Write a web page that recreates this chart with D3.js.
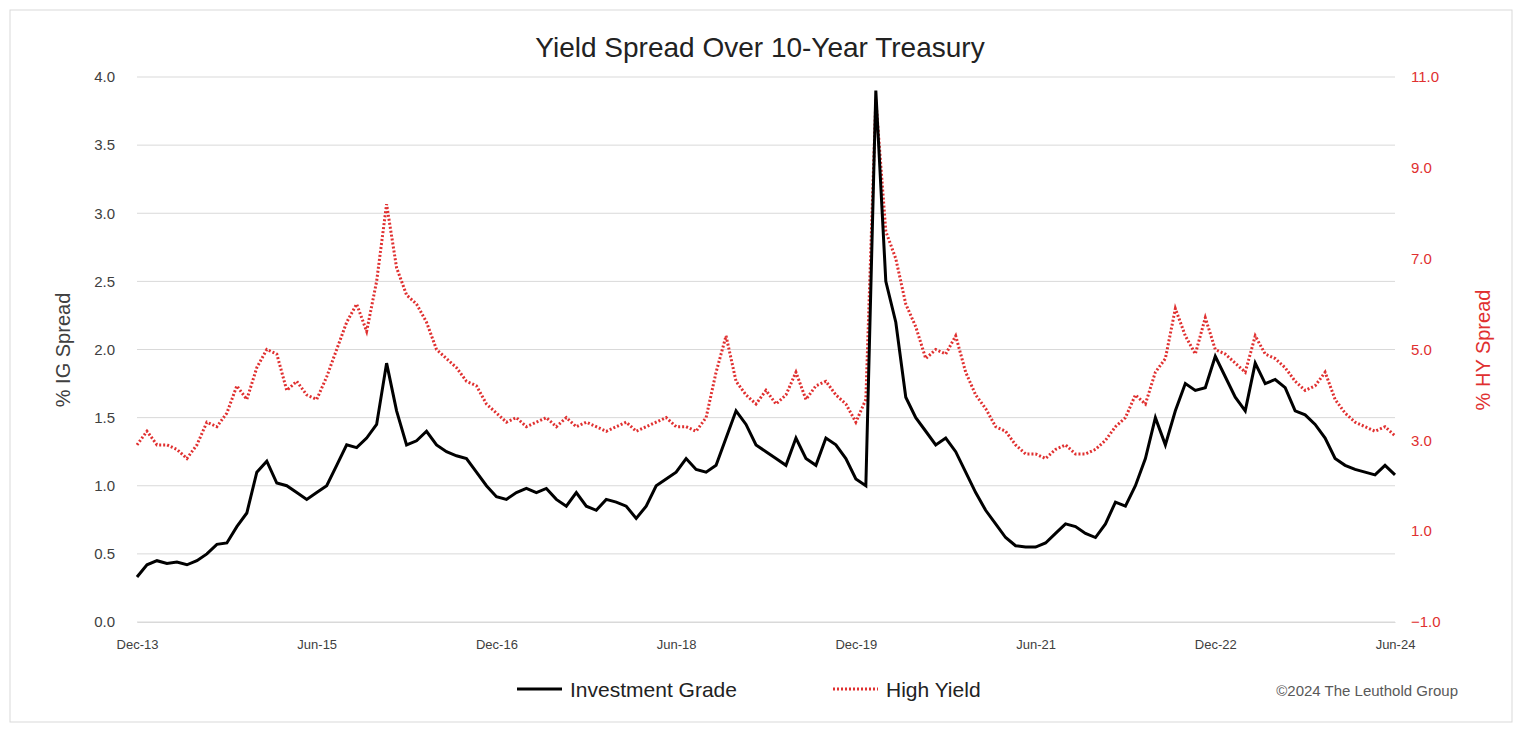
<!DOCTYPE html>
<html>
<head>
<script src="https://d3js.org/d3.v7.min.js"></script>
<style>
  body { margin: 0; background: #fff; font-family: "Liberation Sans", Arial, sans-serif; }
</style>
</head>
<body>
<svg id="chart" width="1524" height="737"></svg>
<script>
// monthly values starting Dec-2013
const igSpread = [0.33,0.42,0.45,0.43,0.44,0.42,0.45,0.50,0.57,0.58,0.70,0.80,
  1.10,1.18,1.02,1.00,0.95,0.90,0.95,1.00,1.15,1.30,1.28,1.35,1.45,1.90,1.55,1.30,1.33,1.40,1.30,1.25,1.22,1.20,1.10,1.00,
  0.92,0.90,0.95,0.98,0.95,0.98,0.90,0.85,0.95,0.85,0.82,0.90,0.88,0.85,0.76,0.85,1.00,1.05,
  1.10,1.20,1.12,1.10,1.15,1.35,1.55,1.45,1.30,1.25,1.20,1.15,1.35,1.20,1.15,1.35,1.30,1.20,
  1.05,1.00,3.90,2.50,2.20,1.65,1.50,1.40,1.30,1.35,1.25,1.10,0.95,0.82,0.72,0.62,0.56,0.55,
  0.55,0.58,0.65,0.72,0.70,0.65,0.62,0.72,0.88,0.85,1.00,1.20,1.50,1.30,1.55,1.75,1.70,1.72,
  1.95,1.80,1.65,1.55,1.90,1.75,1.78,1.72,1.55,1.52,1.45,1.35,1.20,1.15,1.12,1.10,1.08,1.15,1.08];
const hySpread = [2.9,3.2,2.9,2.9,2.8,2.6,2.9,3.4,3.3,3.6,4.2,3.9,
  4.6,5.0,4.9,4.1,4.3,4.0,3.9,4.4,5.0,5.6,6.0,5.4,6.5,8.2,6.8,6.2,6.0,5.6,5.0,4.8,4.6,4.3,4.2,3.8,
  3.6,3.4,3.5,3.3,3.4,3.5,3.3,3.5,3.3,3.4,3.3,3.2,3.3,3.4,3.2,3.3,3.4,3.5,
  3.3,3.3,3.2,3.5,4.5,5.3,4.3,4.0,3.8,4.1,3.8,4.0,4.5,3.9,4.2,4.3,4.0,3.8,
  3.4,3.9,10.5,7.6,7.0,6.0,5.5,4.8,5.0,4.9,5.3,4.5,4.0,3.7,3.3,3.2,2.9,2.7,
  2.7,2.6,2.8,2.9,2.7,2.7,2.8,3.0,3.3,3.5,4.0,3.8,4.5,4.8,5.9,5.3,4.9,5.7,
  5.0,4.9,4.7,4.5,5.3,4.9,4.8,4.6,4.3,4.1,4.2,4.5,3.9,3.6,3.4,3.3,3.2,3.3,3.1];
const xTickLabels = ["Dec-13","Jun-15","Dec-16","Jun-18","Dec-19","Jun-21","Dec-22","Jun-24"];
const leftTicks = [0,0.5,1,1.5,2,2.5,3,3.5,4];
const rightTicks = [-1,1,3,5,7,9,11];

const svg = d3.select("#chart");
svg.append("rect").attr("x", 10).attr("y", 10).attr("width", 1502).attr("height", 712)
  .attr("fill", "#fff").attr("stroke", "#d9d9d9");

const x = d3.scaleLinear().domain([0, igSpread.length - 1]).range([137, 1395]);
const yL = d3.scaleLinear().domain([0, 4]).range([622, 77]);
const yR = d3.scaleLinear().domain([-1, 11]).range([622, 77]);

svg.append("g").selectAll("line").data(leftTicks).join("line")
  .attr("x1", 137).attr("x2", 1395).attr("y1", d => yL(d)).attr("y2", d => yL(d))
  .attr("stroke", "#d9d9d9").attr("stroke-width", 1);

const gl = svg.append("g").attr("transform", "translate(137,0)")
  .call(d3.axisLeft(yL).tickValues(leftTicks).tickFormat(d3.format(".1f")).tickSize(0).tickPadding(22));
gl.select(".domain").remove();
gl.selectAll("text").attr("font-size", 15).attr("fill", "#404040");

const gr = svg.append("g").attr("transform", "translate(1395,0)")
  .call(d3.axisRight(yR).tickValues(rightTicks).tickFormat(d3.format(".1f")).tickSize(0).tickPadding(16));
gr.select(".domain").remove();
gr.selectAll("text").attr("font-size", 15).attr("fill", "#e03030");

const gx = svg.append("g").attr("transform", "translate(0,622)")
  .call(d3.axisBottom(x).tickValues(xTickLabels.map((d, i) => i * 18)).tickFormat((d, i) => xTickLabels[i]).tickSize(0).tickPadding(18));
gx.select(".domain").attr("stroke", "#d9d9d9");
gx.selectAll("text").attr("font-size", 13).attr("fill", "#404040");

svg.append("path").datum(hySpread)
  .attr("d", d3.line().x((d, i) => x(i)).y(d => yR(d)))
  .attr("fill", "none").attr("stroke", "#e03030").attr("stroke-width", 3).attr("stroke-dasharray", "2,2");
svg.append("path").datum(igSpread)
  .attr("d", d3.line().x((d, i) => x(i)).y(d => yL(d)))
  .attr("fill", "none").attr("stroke", "#000").attr("stroke-width", 3);

svg.append("text").attr("x", 760).attr("y", 57).attr("text-anchor", "middle")
  .attr("font-size", 28).attr("fill", "#222").text("Yield Spread Over 10-Year Treasury");
svg.append("text").attr("transform", "translate(70,350) rotate(-90)").attr("text-anchor", "middle")
  .attr("font-size", 20).attr("fill", "#404040").text("% IG Spread");
svg.append("text").attr("transform", "translate(1490,350) rotate(-90)").attr("text-anchor", "middle")
  .attr("font-size", 20).attr("fill", "#e03030").text("% HY Spread");

const lg = svg.append("g");
lg.append("line").attr("x1", 517).attr("x2", 562).attr("y1", 689).attr("y2", 689).attr("stroke", "#000").attr("stroke-width", 3);
lg.append("text").attr("x", 570).attr("y", 697).attr("font-size", 21).attr("fill", "#222").text("Investment Grade");
lg.append("line").attr("x1", 833).attr("x2", 878).attr("y1", 689).attr("y2", 689).attr("stroke", "#e03030").attr("stroke-width", 3).attr("stroke-dasharray", "2,2");
lg.append("text").attr("x", 886).attr("y", 697).attr("font-size", 21).attr("fill", "#222").text("High Yield");
svg.append("text").attr("x", 1458).attr("y", 696).attr("text-anchor", "end")
  .attr("font-size", 15).attr("fill", "#595959").text("©2024 The Leuthold Group");
</script>
</body>
</html>
